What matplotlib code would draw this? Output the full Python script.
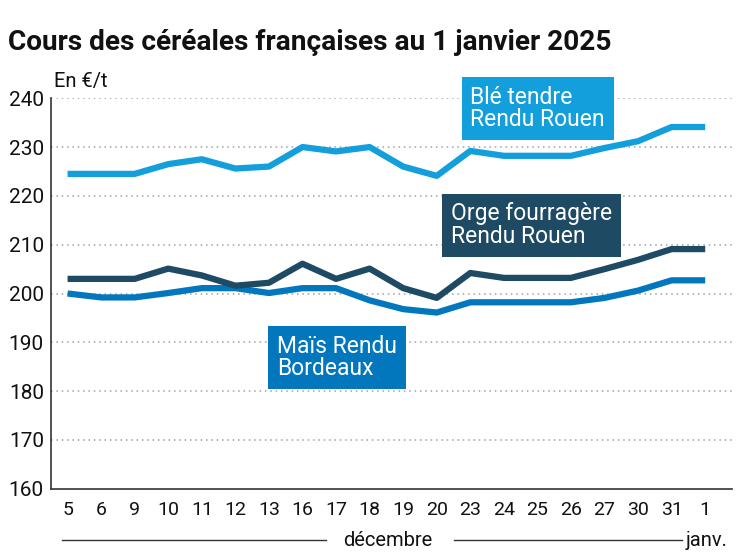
import matplotlib.pyplot as plt
from matplotlib.lines import Line2D

plt.rcParams['font.family'] = ['Roboto', 'DejaVu Sans']

jours = ['5', '6', '9', '10', '11', '12', '13', '16', '17', '18',
         '19', '20', '23', '24', '25', '26', '27', '30', '31', '1']
ble = [224.5, 224.5, 224.5, 226.5, 227.5, 225.6, 226, 230, 229.1, 230,
       226, 224.1, 229.2, 228.2, 228.2, 228.2, 229.8, 231.2, 234.1, 234.1]
orge = [203, 203, 203, 205.1, 203.7, 201.6, 202.2, 206.1, 203, 205.1,
        201.1, 199.1, 204.2, 203.2, 203.2, 203.2, 205, 206.9, 209.1, 209.1]
mais = [200, 199.2, 199.2, 200.1, 201.1, 201.1, 200.1, 201.1, 201.1, 198.6,
        196.8, 196.1, 198.2, 198.2, 198.2, 198.2, 199.1, 200.6, 202.7, 202.7]
yticks = [160, 170, 180, 190, 200, 210, 220, 230, 240]

c_ble = '#129fdc'
c_orge = '#1e4a64'
c_mais = '#0277bd'

fig = plt.figure(figsize=(7.47, 5.58), dpi=100)
ax = fig.add_axes([0.068, 0.124, 0.912, 0.700])

x = list(range(len(jours)))
for serie, col in [(mais, c_mais), (orge, c_orge), (ble, c_ble)]:
    ax.plot(x, serie, color=col, lw=4.5, solid_joinstyle='round',
            solid_capstyle='butt', zorder=3)

ax.set_xlim(-0.5, 19.8)
ax.set_ylim(160, 240)
ax.set_yticks(yticks)
ax.set_xticks(x)
ax.set_xticklabels(jours)
ax.tick_params(axis='both', length=0, colors='#111111')
ax.tick_params(axis='x', pad=9, labelsize=14)
ax.tick_params(axis='y', pad=5, labelsize=15)

for v in yticks[1:]:
    ax.axhline(v, color='#a0a0a0', lw=1.1, ls=(0, (1, 2.5)), zorder=1)

for s in ['top', 'right']:
    ax.spines[s].set_visible(False)
ax.spines['left'].set_color('#333333')
ax.spines['bottom'].set_color('#333333')
ax.spines['left'].set_linewidth(1.2)
ax.spines['bottom'].set_linewidth(1.2)

box = dict(boxstyle='square,pad=0.38', ec='none')
ax.text(12.0, 237.9, 'Blé tendre\nRendu Rouen', fontsize=16.5, color='white',
        va='center', ha='left', linespacing=0.98, zorder=4,
        bbox=dict(box, fc=c_ble))
ax.text(11.43, 214, 'Orge fourragère\nRendu Rouen', fontsize=16.5, color='white',
        va='center', ha='left', linespacing=0.98, zorder=4,
        bbox=dict(box, fc=c_orge))
ax.text(6.24, 186.9, 'Maïs Rendu\nBordeaux', fontsize=16.5, color='white',
        va='center', ha='left', linespacing=0.98, zorder=4,
        bbox=dict(box, fc=c_mais))

fig.text(8 / 747, 1 - 42 / 558, 'Cours des céréales françaises au 1 janvier 2025',
         fontsize=20.2, fontweight='bold', va='center', ha='left', color='#111111')
fig.text(54 / 747, 1 - 81 / 558, 'En €/t', fontsize=14.5, va='center', ha='left',
         color='#111111')

ylig = 1 - 540 / 558
fig.add_artist(Line2D([62 / 747, 326 / 747], [ylig, ylig], color='#333333', lw=1))
fig.add_artist(Line2D([454 / 747, 682 / 747], [ylig, ylig], color='#333333', lw=1))
fig.text(388 / 747, ylig, 'décembre', fontsize=14.5, va='center', ha='center',
         color='#111111')
fig.text(686 / 747, ylig, 'janv.', fontsize=14.5, va='center', ha='left',
         color='#111111')

fig.savefig('out.png', dpi=100)
